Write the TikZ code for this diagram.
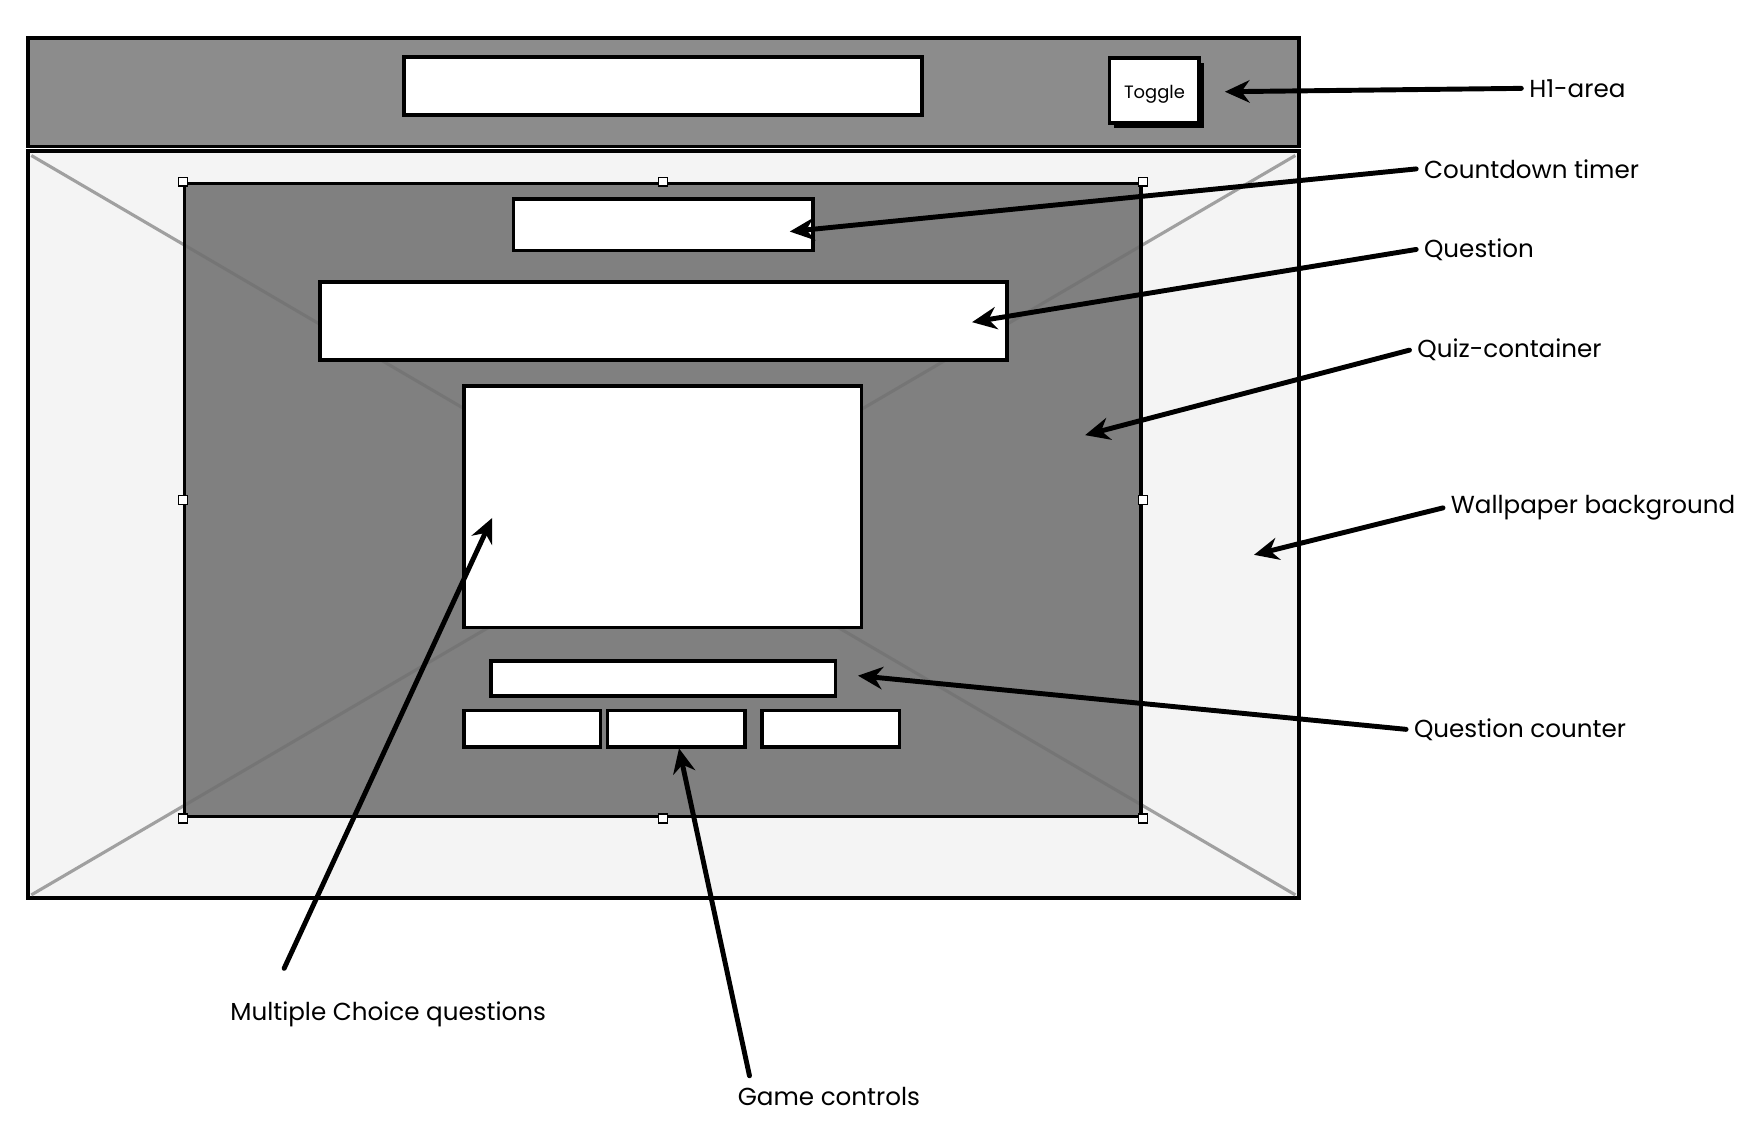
\documentclass[tikz,border=0pt]{standalone}
\usepackage{fontspec}
\setmainfont{Poppins}
\usetikzlibrary{arrows.meta,shadows,calc,fit}

\definecolor{headgray}{HTML}{8C8C8C}
\definecolor{wallgray}{HTML}{F4F4F4}
\definecolor{diaggray}{HTML}{A0A0A0}
\definecolor{quizgray}{HTML}{707070}

\tikzset{
  frame/.style={draw=black, line width=1.6pt, inner sep=0pt},
  blank/.style={frame, fill=white},
  handle/.style={draw=black, fill=white, line width=0.6pt, minimum size=4pt, inner sep=0pt},
  lbl/.style={anchor=west, font=\fontsize{11}{13}\selectfont},
  pointer/.style={-{Stealth[length=11pt,width=10pt]}, line width=2.2pt, line cap=round},
}

\begin{document}
\begin{tikzpicture}[x=0.5pt, y=-0.5pt]
    \useasboundingbox (0,0) rectangle (1568,1016);
    \node[frame, fill=headgray, fit={(25,34) (1161,131)}] (header) {};
    \node[blank, fit={(361,51) (824,103)}] (title) {};
    \node[blank, fit={(992,52) (1072,110)}, drop shadow={shadow xshift=2pt, shadow yshift=-2pt, fill=black, opacity=1}] (toggle) {};
    \node[font=\fontsize{8}{10}\selectfont] (togglelbl) at ($(toggle.center)+(0,3)$) {Toggle};
    \node[frame, fill=wallgray, fit={(25,135) (1161,803)}] (wall) {};
    \draw[diaggray, line width=1.4pt] (28,139) -- (1158,800);
    \draw[diaggray, line width=1.4pt] (1158,139) -- (28,800);
    \node[frame, fill=quizgray, fill opacity=0.88, fit={(165,164) (1020,730)}] (quiz) {};
    \foreach \side in {north west, north, north east, west, east, south west, south, south east}
        \node[handle] at (quiz.\side) {};
    \node[blank, fit={(459,178) (727,224)}] (timer) {};
    \node[blank, fit={(286,252) (900,322)}] (question) {};
    \node[blank, fit={(415,345) (770,561)}] (choices) {};
    \node[blank, fit={(439,591) (747,622)}] (counter) {};
    \node[blank, fit={(415,635) (537,668)}] (ctrlA) {};
    \node[blank, fit={(543,635) (666,668)}] (ctrlB) {};
    \node[blank, fit={(681,635) (804,668)}] (ctrlC) {};

    \coordinate (h1pt) at (1095,82);
    \coordinate (timerpt) at (706,207);
    \coordinate (questionpt) at (869,288);
    \coordinate (quizpt) at (970,389);
    \coordinate (wallpt) at (1121,496);
    \coordinate (counterpt) at (767,604);
    \coordinate (choicespt) at (440,463);
    \coordinate (ctrlpt) at (607,669);

    \node[lbl] (h1lbl) at (1360,79) {H1-area};
    \node[lbl] (timerlbl) at (1266,151) {Countdown timer};
    \node[lbl] (questionlbl) at (1266,223) {Question};
    \node[lbl] (quizlbl) at (1260,313) {Quiz-container};
    \node[lbl] (walllbl) at (1290,454) {Wallpaper background};
    \node[lbl] (counterlbl) at (1257,652) {Question counter};
    \node[lbl, anchor=center] (choiceslbl) at (347,907) {Multiple Choice questions};
    \node[lbl, anchor=center] (ctrllbl) at (741,980) {Game controls};

    \draw[pointer] (h1lbl.west) -- (h1pt);
    \draw[pointer] (timerlbl.west) -- (timerpt);
    \draw[pointer] (questionlbl.west) -- (questionpt);
    \draw[pointer] (quizlbl.west) -- (quizpt);
    \draw[pointer] (walllbl.west) -- (wallpt);
    \draw[pointer] (counterlbl.west) -- (counterpt);
    \draw[pointer] ($(choiceslbl.north)+(-93,-23)$) -- (choicespt);
    \draw[pointer] ($(ctrllbl.north)+(-71,-3)$) -- (ctrlpt);
\end{tikzpicture}
\end{document}
